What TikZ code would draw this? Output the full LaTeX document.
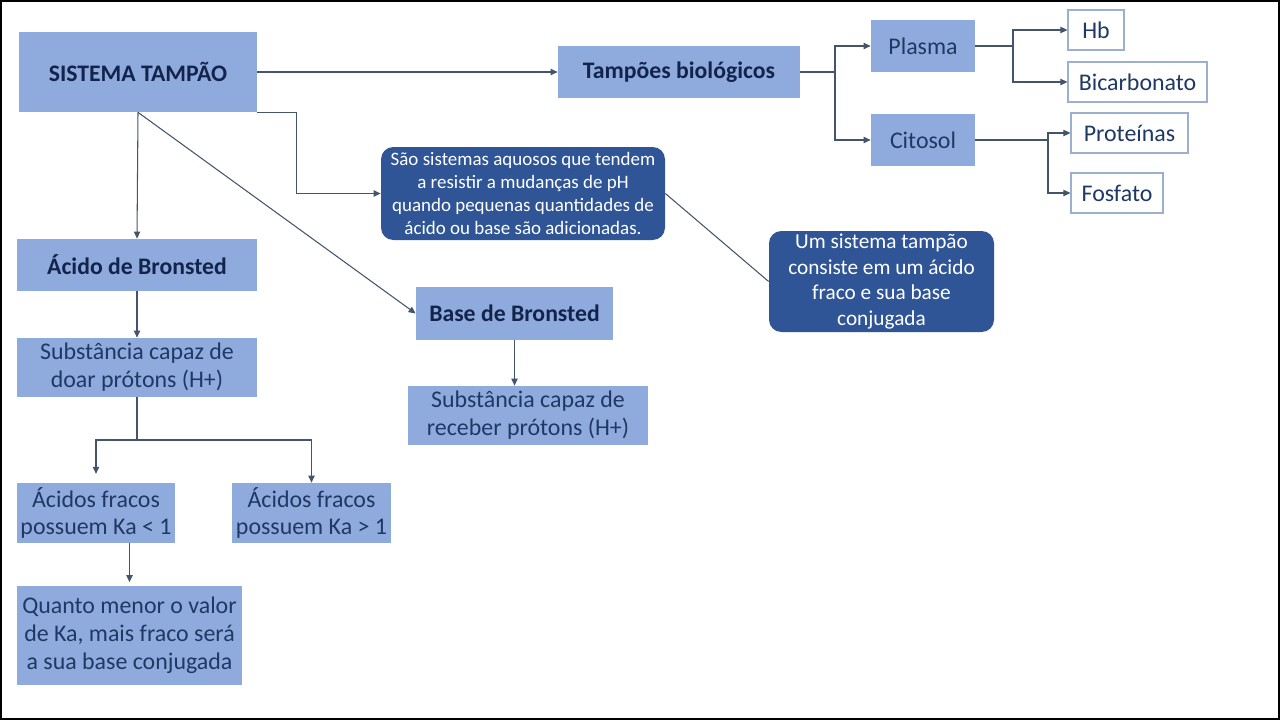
\documentclass[tikz,border=0pt]{standalone}
\usepackage{fontspec}
\setmainfont{Carlito}
\usepackage{xcolor}
\usetikzlibrary{arrows.meta}
\definecolor{boxfill}{HTML}{8FAADC}
\definecolor{navy}{HTML}{1F3864}
\definecolor{darknavy}{HTML}{13244C}
\definecolor{darkbox}{HTML}{2F5597}
\definecolor{linec}{HTML}{44546A}
\definecolor{wborder}{HTML}{9DAFCF}

\begin{document}
\begin{tikzpicture}[x=0.02cm, y=-0.02cm]
		\tikzset{wh/.style 2 args = {minimum width=#1*0.02cm, minimum height=#2*0.02cm}}
		\tikzset{box/.style = {fill=boxfill, text=navy, inner sep=0pt, align=center, font=\fontsize{13.6}{15.8}\selectfont}}
		\tikzset{head/.style = {box, text=darknavy, font=\fontsize{13.5}{16}\selectfont\bfseries}}
		\tikzset{leaf/.style = {box, fill=white, draw=wborder, line width=0.6pt}}
		\tikzset{note/.style = {fill=darkbox, text=white, rounded corners=7pt, inner sep=0pt, align=center}}
		\tikzset{link/.style = {draw=linec, line width=0.6pt}}
		\tikzset{edge/.style = {link, -{Triangle[length=4pt, width=3.6pt]}}}

		\useasboundingbox (0,0) rectangle (1280,720);
		\draw[line width=1.2pt] (1,1) rectangle (1279,719);

		\node[head, wh={238}{80}] (Sis) at (138,72) {SISTEMA TAMPÃO};
		\node[head, wh={242}{52}] (Tamp) at (679,72) {Tampões biológicos};
		\node[box, wh={104}{52}] (Pla) at (923,46) {Plasma};
		\node[box, wh={104}{52}] (Cit) at (923,140) {Citosol};
		\node[leaf, wh={56}{40}] (Hb) at (1096,30) {Hb};
		\node[leaf, wh={139}{40}] (Bic) at (1137.5,82) {Bicarbonato};
		\node[leaf, wh={117}{40}] (Pro) at (1129.5,133) {Proteínas};
		\node[leaf, wh={92}{40}] (Fos) at (1117,193) {Fosfato};

		\node[note, wh={284}{93}, font=\fontsize{10.8}{13}\selectfont] (Def) at (523,193.5) {São sistemas aquosos que tendem\\a resistir a mudanças de pH\\quando pequenas quantidades de\\ácido ou base são adicionadas.};
		\node[note, wh={225}{101}, font=\fontsize{12.1}{14.7}\selectfont] (Cons) at (881.5,281.5) {Um sistema tampão\\consiste em um ácido\\fraco e sua base\\conjugada};

		\node[head, wh={240}{52}] (AcB) at (137,265) {Ácido de Bronsted};
		\node[head, wh={197}{53}] (BaB) at (514.5,313.5) {Base de Bronsted};
		\node[box, wh={240}{59}] (AcS) at (137,367.5) {Substância capaz de\\doar prótons (H+)};
		\node[box, wh={240}{59}] (BaS) at (528,415.5) {Substância capaz de\\receber prótons (H+)};
		\node[box, wh={158}{60}] (Ka_1) at (96,513) {Ácidos fracos\\possuem Ka < 1};
		\node[box, wh={159}{60}] (Ka_2) at (311.5,513) {Ácidos fracos\\possuem Ka > 1};
		\node[box, wh={225}{99}] (Qm) at (129.5,635.5) {Quanto menor o valor\\de Ka, mais fraco será\\a sua base conjugada};

		\coordinate (J_1) at (835,72);
		\coordinate (J_2) at (1013,46);
		\coordinate (J_3) at (1048,140);
		\coordinate (J_4) at (137,440);

		\draw[edge] (Sis.east) to (Tamp.west);
		\draw[edge] (Sis.south east) -- ++(39,0) |- (Def.west);
		\draw[edge] (Sis.south) to (AcB.north);
		\draw[edge] (Sis.south) to (BaB.west);

		\draw[link] (Tamp.east) -- (J_1);
		\draw[edge] (J_1) |- (Pla.west);
		\draw[edge] (J_1) |- (Cit.west);
		\draw[link] (Pla.east) -- (J_2);
		\draw[edge] (J_2) |- (Hb.west);
		\draw[edge] (J_2) |- (Bic.west);
		\draw[link] (Cit.east) -- (J_3);
		\draw[edge] (J_3) |- (Pro.west);
		\draw[edge] (J_3) |- (Fos.west);

		\draw[link] (Def.east) to (Cons.west);

		\draw[edge] (AcB.south) to (AcS.north);
		\draw[edge] (BaB.south) to (BaB.south |- BaS.north);
		\draw[link] (AcS.south) -- (J_4);
		\draw[edge, shorten >=5pt] (J_4) -| (Ka_1.north);
		\draw[edge] (J_4) -| (Ka_2.north);
		\draw[edge, shorten >=2pt] (Ka_1.south -| Qm.north) to (Qm.north);
\end{tikzpicture}
\end{document}
